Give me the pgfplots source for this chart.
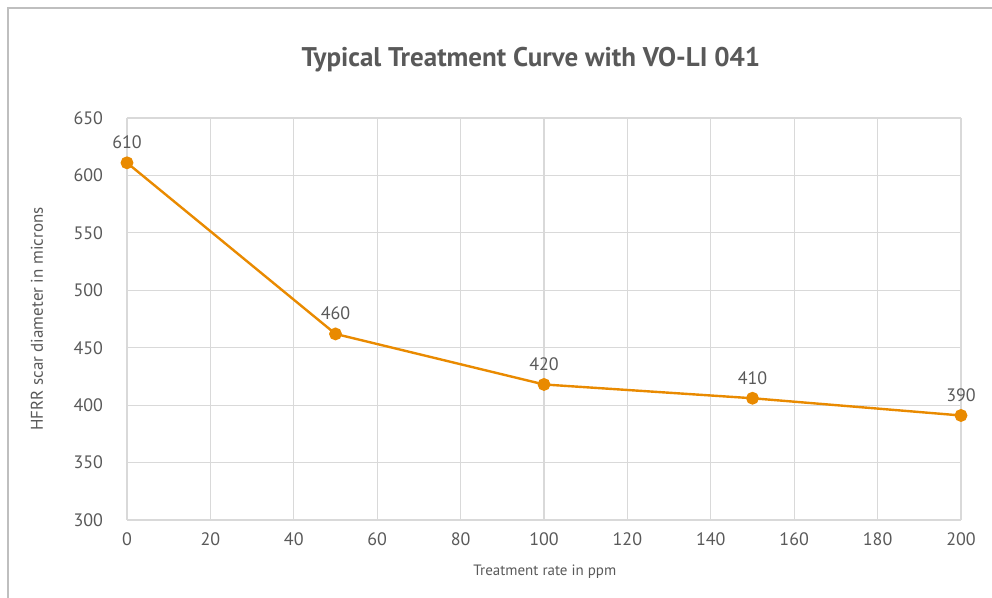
\documentclass[border=0pt]{standalone}
\usepackage{fontspec}
\setmainfont{PT Sans}
\usepackage{pgfplots}
\pgfplotsset{compat=1.18}
\definecolor{txtgray}{HTML}{595959}
\definecolor{gridgray}{HTML}{D9D9D9}
\definecolor{lineorange}{HTML}{E98A00}
\definecolor{framegray}{HTML}{BFBFBF}
\begin{document}
\begin{tikzpicture}
\path[use as bounding box] (0,0) rectangle (496pt,-299pt);
\draw[framegray, line width=1pt] (4pt,-299pt) -- (4pt,-4pt) -- (496pt,-4pt);
\node[font=\fontsize{13.5}{15}\selectfont\bfseries, text=txtgray, anchor=center] at (265.5pt,-30pt) {Typical Treatment Curve with VO-LI 041};
\begin{axis}[
  at={(63.5pt,-260pt)}, anchor=south west,
  scale only axis, width=417pt, height=201pt,
  xmin=0, xmax=200, ymin=300, ymax=650,
  xtick={0,20,...,200}, ytick={300,350,...,650},
  grid=major, major grid style={gridgray, line width=0.6pt},
  axis line style={draw=none},
  major tick length=0pt,
  tick label style={font=\fontsize{9}{10}\selectfont, text=txtgray},
  /pgf/number format/assume math mode=true,
  yticklabel style={xshift=-8.5pt},
  xticklabel style={yshift=-3pt},
  xlabel={Treatment rate in ppm},
  xlabel style={font=\fontsize{7.5}{9}\selectfont, text=txtgray, at={(axis description cs:0.501,-0.129)}, anchor=center},
  ylabel={HFRR scar diameter in microns},
  ylabel style={font=\fontsize{8.5}{10}\selectfont, text=txtgray, at={(axis description cs:-0.108,0.5)}, anchor=center, rotate=0},
  clip=false,
  nodes near coords, point meta=explicit symbolic,
  every node near coord/.style={font=\fontsize{9}{10}\selectfont, text=txtgray, anchor=south, yshift=3pt},
]
\addplot[lineorange, line width=1.2pt, mark=*, mark size=2.6pt, mark options={fill=lineorange, draw=lineorange}]
  table[meta=label] {
  x y label
  0 611 610
  50 462 460
  100 418 420
  150 406 410
  200 391 390
  };
\end{axis}
\end{tikzpicture}
\end{document}
